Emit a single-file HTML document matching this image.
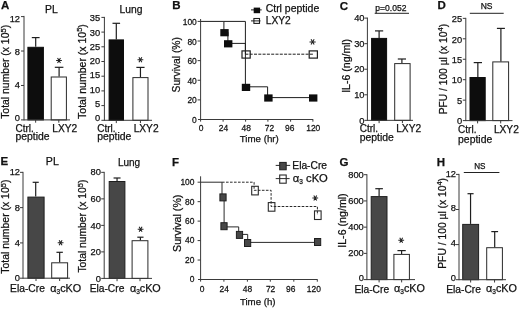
<!DOCTYPE html>
<html><head><meta charset="utf-8"><title>Figure</title><style>
html,body{margin:0;padding:0;background:#fff;}
body{width:520px;height:309px;overflow:hidden;}
svg{display:block;will-change:transform;}
text{stroke:#111;stroke-width:0.25px;}
</style></head><body>
<svg width="520" height="309" viewBox="0 0 520 309" font-family='"Liberation Sans", sans-serif' fill="#111">
<rect width="520" height="309" fill="#fff"/>
<line x1="24.00" y1="15.90" x2="24.00" y2="120.40" stroke="#3a3a3a" stroke-width="1"/>
<line x1="21.00" y1="85.47" x2="24.00" y2="85.47" stroke="#3a3a3a" stroke-width="1"/>
<line x1="21.00" y1="51.03" x2="24.00" y2="51.03" stroke="#3a3a3a" stroke-width="1"/>
<line x1="21.00" y1="16.60" x2="24.00" y2="16.60" stroke="#3a3a3a" stroke-width="1"/>
<rect x="27.90" y="47.30" width="15.50" height="72.60" fill="#0d0d0d" stroke="#0d0d0d" stroke-width="1"/>
<line x1="35.70" y1="46.80" x2="35.70" y2="37.60" stroke="#1e1e1e" stroke-width="1.2"/>
<line x1="31.80" y1="37.60" x2="39.60" y2="37.60" stroke="#1e1e1e" stroke-width="1.2"/>
<line x1="35.65" y1="119.90" x2="35.65" y2="122.70" stroke="#3a3a3a" stroke-width="1"/>
<rect x="51.20" y="77.00" width="15.20" height="42.90" fill="white" stroke="#2a2a2a" stroke-width="1"/>
<line x1="59.10" y1="76.50" x2="59.10" y2="67.30" stroke="#1e1e1e" stroke-width="1.2"/>
<line x1="54.80" y1="67.30" x2="63.40" y2="67.30" stroke="#1e1e1e" stroke-width="1.2"/>
<line x1="58.80" y1="119.90" x2="58.80" y2="122.70" stroke="#3a3a3a" stroke-width="1"/>
<line x1="21.00" y1="119.90" x2="70.00" y2="119.90" stroke="#3a3a3a" stroke-width="1"/>
<path d="M56.10 60.40L61.90 60.40M57.55 57.89L60.45 62.91M60.45 57.89L57.55 62.91" stroke="#222" stroke-width="1.05" fill="none"/>
<line x1="104.40" y1="16.90" x2="104.40" y2="120.80" stroke="#3a3a3a" stroke-width="1"/>
<line x1="101.40" y1="105.60" x2="104.40" y2="105.60" stroke="#3a3a3a" stroke-width="1"/>
<line x1="101.40" y1="90.90" x2="104.40" y2="90.90" stroke="#3a3a3a" stroke-width="1"/>
<line x1="101.40" y1="76.20" x2="104.40" y2="76.20" stroke="#3a3a3a" stroke-width="1"/>
<line x1="101.40" y1="61.50" x2="104.40" y2="61.50" stroke="#3a3a3a" stroke-width="1"/>
<line x1="101.40" y1="46.80" x2="104.40" y2="46.80" stroke="#3a3a3a" stroke-width="1"/>
<line x1="101.40" y1="32.10" x2="104.40" y2="32.10" stroke="#3a3a3a" stroke-width="1"/>
<line x1="101.40" y1="17.40" x2="104.40" y2="17.40" stroke="#3a3a3a" stroke-width="1"/>
<rect x="109.10" y="39.90" width="14.40" height="80.40" fill="#0d0d0d" stroke="#0d0d0d" stroke-width="1"/>
<line x1="116.30" y1="39.40" x2="116.30" y2="23.30" stroke="#1e1e1e" stroke-width="1.2"/>
<line x1="112.50" y1="23.30" x2="120.10" y2="23.30" stroke="#1e1e1e" stroke-width="1.2"/>
<line x1="116.30" y1="120.30" x2="116.30" y2="123.10" stroke="#3a3a3a" stroke-width="1"/>
<rect x="132.90" y="77.60" width="15.10" height="42.70" fill="white" stroke="#2a2a2a" stroke-width="1"/>
<line x1="140.45" y1="77.10" x2="140.45" y2="67.40" stroke="#1e1e1e" stroke-width="1.2"/>
<line x1="136.35" y1="67.40" x2="144.55" y2="67.40" stroke="#1e1e1e" stroke-width="1.2"/>
<line x1="140.45" y1="120.30" x2="140.45" y2="123.10" stroke="#3a3a3a" stroke-width="1"/>
<line x1="101.40" y1="120.30" x2="152.00" y2="120.30" stroke="#3a3a3a" stroke-width="1"/>
<path d="M137.50 59.70L143.30 59.70M138.95 57.19L141.85 62.21M141.85 57.19L138.95 62.21" stroke="#222" stroke-width="1.05" fill="none"/>
<line x1="367.40" y1="17.60" x2="367.40" y2="120.85" stroke="#3a3a3a" stroke-width="1"/>
<line x1="364.40" y1="94.79" x2="367.40" y2="94.79" stroke="#3a3a3a" stroke-width="1"/>
<line x1="364.40" y1="69.22" x2="367.40" y2="69.22" stroke="#3a3a3a" stroke-width="1"/>
<line x1="364.40" y1="43.66" x2="367.40" y2="43.66" stroke="#3a3a3a" stroke-width="1"/>
<line x1="364.40" y1="18.10" x2="367.40" y2="18.10" stroke="#3a3a3a" stroke-width="1"/>
<rect x="371.60" y="38.40" width="15.00" height="81.95" fill="#0d0d0d" stroke="#0d0d0d" stroke-width="1"/>
<line x1="379.10" y1="37.90" x2="379.10" y2="30.90" stroke="#1e1e1e" stroke-width="1.2"/>
<line x1="375.00" y1="30.90" x2="383.20" y2="30.90" stroke="#1e1e1e" stroke-width="1.2"/>
<line x1="379.10" y1="120.35" x2="379.10" y2="123.15" stroke="#3a3a3a" stroke-width="1"/>
<rect x="394.70" y="63.60" width="15.40" height="56.75" fill="white" stroke="#2a2a2a" stroke-width="1"/>
<line x1="401.90" y1="63.10" x2="401.90" y2="59.00" stroke="#1e1e1e" stroke-width="1.2"/>
<line x1="397.80" y1="59.00" x2="406.00" y2="59.00" stroke="#1e1e1e" stroke-width="1.2"/>
<line x1="402.40" y1="120.35" x2="402.40" y2="123.15" stroke="#3a3a3a" stroke-width="1"/>
<line x1="364.40" y1="120.35" x2="413.00" y2="120.35" stroke="#3a3a3a" stroke-width="1"/>
<line x1="374.70" y1="13.30" x2="409.00" y2="13.30" stroke="#222" stroke-width="1"/>
<line x1="465.80" y1="17.85" x2="465.80" y2="121.10" stroke="#3a3a3a" stroke-width="1"/>
<line x1="462.80" y1="100.15" x2="465.80" y2="100.15" stroke="#3a3a3a" stroke-width="1"/>
<line x1="462.80" y1="79.70" x2="465.80" y2="79.70" stroke="#3a3a3a" stroke-width="1"/>
<line x1="462.80" y1="59.25" x2="465.80" y2="59.25" stroke="#3a3a3a" stroke-width="1"/>
<line x1="462.80" y1="38.80" x2="465.80" y2="38.80" stroke="#3a3a3a" stroke-width="1"/>
<line x1="462.80" y1="18.35" x2="465.80" y2="18.35" stroke="#3a3a3a" stroke-width="1"/>
<rect x="470.00" y="77.50" width="15.20" height="43.10" fill="#0d0d0d" stroke="#0d0d0d" stroke-width="1"/>
<line x1="477.85" y1="77.00" x2="477.85" y2="62.60" stroke="#1e1e1e" stroke-width="1.2"/>
<line x1="473.70" y1="62.60" x2="482.00" y2="62.60" stroke="#1e1e1e" stroke-width="1.2"/>
<line x1="477.60" y1="120.60" x2="477.60" y2="123.40" stroke="#3a3a3a" stroke-width="1"/>
<rect x="492.80" y="61.90" width="15.80" height="58.70" fill="white" stroke="#2a2a2a" stroke-width="1"/>
<line x1="500.90" y1="61.40" x2="500.90" y2="28.40" stroke="#1e1e1e" stroke-width="1.2"/>
<line x1="496.90" y1="28.40" x2="504.90" y2="28.40" stroke="#1e1e1e" stroke-width="1.2"/>
<line x1="500.70" y1="120.60" x2="500.70" y2="123.40" stroke="#3a3a3a" stroke-width="1"/>
<line x1="462.80" y1="120.60" x2="512.50" y2="120.60" stroke="#3a3a3a" stroke-width="1"/>
<line x1="469.80" y1="13.30" x2="503.70" y2="13.30" stroke="#222" stroke-width="1"/>
<line x1="23.00" y1="171.85" x2="23.00" y2="278.70" stroke="#3a3a3a" stroke-width="1"/>
<line x1="20.00" y1="242.92" x2="23.00" y2="242.92" stroke="#3a3a3a" stroke-width="1"/>
<line x1="20.00" y1="207.63" x2="23.00" y2="207.63" stroke="#3a3a3a" stroke-width="1"/>
<line x1="20.00" y1="172.35" x2="23.00" y2="172.35" stroke="#3a3a3a" stroke-width="1"/>
<rect x="27.90" y="197.10" width="16.20" height="81.10" fill="#474747" stroke="#1e1e1e" stroke-width="1"/>
<line x1="35.70" y1="196.60" x2="35.70" y2="182.30" stroke="#1e1e1e" stroke-width="1.2"/>
<line x1="32.65" y1="182.30" x2="38.75" y2="182.30" stroke="#1e1e1e" stroke-width="1.2"/>
<line x1="36.00" y1="278.20" x2="36.00" y2="281.00" stroke="#3a3a3a" stroke-width="1"/>
<rect x="51.70" y="262.80" width="15.90" height="15.40" fill="white" stroke="#2a2a2a" stroke-width="1"/>
<line x1="59.65" y1="262.30" x2="59.65" y2="252.30" stroke="#1e1e1e" stroke-width="1.2"/>
<line x1="56.45" y1="252.30" x2="62.85" y2="252.30" stroke="#1e1e1e" stroke-width="1.2"/>
<line x1="59.65" y1="278.20" x2="59.65" y2="281.00" stroke="#3a3a3a" stroke-width="1"/>
<line x1="20.00" y1="278.20" x2="70.00" y2="278.20" stroke="#3a3a3a" stroke-width="1"/>
<path d="M57.70 242.70L63.50 242.70M59.15 240.19L62.05 245.21M62.05 240.19L59.15 245.21" stroke="#222" stroke-width="1.05" fill="none"/>
<line x1="104.20" y1="171.85" x2="104.20" y2="278.90" stroke="#3a3a3a" stroke-width="1"/>
<line x1="101.20" y1="251.89" x2="104.20" y2="251.89" stroke="#3a3a3a" stroke-width="1"/>
<line x1="101.20" y1="225.38" x2="104.20" y2="225.38" stroke="#3a3a3a" stroke-width="1"/>
<line x1="101.20" y1="198.86" x2="104.20" y2="198.86" stroke="#3a3a3a" stroke-width="1"/>
<line x1="101.20" y1="172.35" x2="104.20" y2="172.35" stroke="#3a3a3a" stroke-width="1"/>
<rect x="109.20" y="181.50" width="15.70" height="96.90" fill="#474747" stroke="#1e1e1e" stroke-width="1"/>
<line x1="117.05" y1="181.00" x2="117.05" y2="178.00" stroke="#1e1e1e" stroke-width="1.2"/>
<line x1="113.55" y1="178.00" x2="120.55" y2="178.00" stroke="#1e1e1e" stroke-width="1.2"/>
<line x1="117.05" y1="278.40" x2="117.05" y2="281.20" stroke="#3a3a3a" stroke-width="1"/>
<rect x="132.10" y="240.70" width="15.80" height="37.70" fill="white" stroke="#2a2a2a" stroke-width="1"/>
<line x1="140.40" y1="240.20" x2="140.40" y2="237.20" stroke="#1e1e1e" stroke-width="1.2"/>
<line x1="137.30" y1="237.20" x2="143.50" y2="237.20" stroke="#1e1e1e" stroke-width="1.2"/>
<line x1="140.00" y1="278.40" x2="140.00" y2="281.20" stroke="#3a3a3a" stroke-width="1"/>
<line x1="101.20" y1="278.40" x2="152.00" y2="278.40" stroke="#3a3a3a" stroke-width="1"/>
<path d="M137.70 229.30L143.50 229.30M139.15 226.79L142.05 231.81M142.05 226.79L139.15 231.81" stroke="#222" stroke-width="1.05" fill="none"/>
<line x1="366.90" y1="174.20" x2="366.90" y2="280.10" stroke="#3a3a3a" stroke-width="1"/>
<line x1="363.90" y1="253.38" x2="366.90" y2="253.38" stroke="#3a3a3a" stroke-width="1"/>
<line x1="363.90" y1="227.15" x2="366.90" y2="227.15" stroke="#3a3a3a" stroke-width="1"/>
<line x1="363.90" y1="200.93" x2="366.90" y2="200.93" stroke="#3a3a3a" stroke-width="1"/>
<line x1="363.90" y1="174.70" x2="366.90" y2="174.70" stroke="#3a3a3a" stroke-width="1"/>
<rect x="371.20" y="196.60" width="15.80" height="83.00" fill="#474747" stroke="#1e1e1e" stroke-width="1"/>
<line x1="379.10" y1="196.10" x2="379.10" y2="188.70" stroke="#1e1e1e" stroke-width="1.2"/>
<line x1="375.30" y1="188.70" x2="382.90" y2="188.70" stroke="#1e1e1e" stroke-width="1.2"/>
<line x1="379.10" y1="279.60" x2="379.10" y2="282.40" stroke="#3a3a3a" stroke-width="1"/>
<rect x="393.90" y="254.40" width="15.50" height="25.20" fill="white" stroke="#2a2a2a" stroke-width="1"/>
<line x1="401.60" y1="253.90" x2="401.60" y2="250.60" stroke="#1e1e1e" stroke-width="1.2"/>
<line x1="397.45" y1="250.60" x2="405.75" y2="250.60" stroke="#1e1e1e" stroke-width="1.2"/>
<line x1="401.65" y1="279.60" x2="401.65" y2="282.40" stroke="#3a3a3a" stroke-width="1"/>
<line x1="363.90" y1="279.60" x2="415.00" y2="279.60" stroke="#3a3a3a" stroke-width="1"/>
<path d="M398.30 240.25L404.10 240.25M399.75 237.74L402.65 242.76M402.65 237.74L399.75 242.76" stroke="#222" stroke-width="1.05" fill="none"/>
<line x1="459.00" y1="173.90" x2="459.00" y2="280.20" stroke="#3a3a3a" stroke-width="1"/>
<line x1="456.00" y1="244.60" x2="459.00" y2="244.60" stroke="#3a3a3a" stroke-width="1"/>
<line x1="456.00" y1="209.50" x2="459.00" y2="209.50" stroke="#3a3a3a" stroke-width="1"/>
<line x1="456.00" y1="174.40" x2="459.00" y2="174.40" stroke="#3a3a3a" stroke-width="1"/>
<rect x="462.70" y="224.40" width="15.90" height="55.30" fill="#474747" stroke="#1e1e1e" stroke-width="1"/>
<line x1="470.55" y1="223.90" x2="470.55" y2="193.70" stroke="#1e1e1e" stroke-width="1.2"/>
<line x1="467.50" y1="193.70" x2="473.60" y2="193.70" stroke="#1e1e1e" stroke-width="1.2"/>
<line x1="470.65" y1="279.70" x2="470.65" y2="282.50" stroke="#3a3a3a" stroke-width="1"/>
<rect x="486.70" y="247.70" width="15.70" height="32.00" fill="white" stroke="#2a2a2a" stroke-width="1"/>
<line x1="494.70" y1="247.20" x2="494.70" y2="231.60" stroke="#1e1e1e" stroke-width="1.2"/>
<line x1="491.30" y1="231.60" x2="498.10" y2="231.60" stroke="#1e1e1e" stroke-width="1.2"/>
<line x1="494.55" y1="279.70" x2="494.55" y2="282.50" stroke="#3a3a3a" stroke-width="1"/>
<line x1="456.00" y1="279.70" x2="506.00" y2="279.70" stroke="#3a3a3a" stroke-width="1"/>
<line x1="463.80" y1="172.50" x2="499.40" y2="172.50" stroke="#222" stroke-width="1"/>
<line x1="200.60" y1="19.00" x2="200.60" y2="121.60" stroke="#3a3a3a" stroke-width="1"/>
<line x1="197.60" y1="99.88" x2="200.60" y2="99.88" stroke="#3a3a3a" stroke-width="1"/>
<line x1="197.60" y1="80.26" x2="200.60" y2="80.26" stroke="#3a3a3a" stroke-width="1"/>
<line x1="197.60" y1="60.64" x2="200.60" y2="60.64" stroke="#3a3a3a" stroke-width="1"/>
<line x1="197.60" y1="41.02" x2="200.60" y2="41.02" stroke="#3a3a3a" stroke-width="1"/>
<line x1="197.60" y1="21.40" x2="200.60" y2="21.40" stroke="#3a3a3a" stroke-width="1"/>
<line x1="198.00" y1="119.50" x2="313.20" y2="119.50" stroke="#3a3a3a" stroke-width="1"/>
<line x1="223.10" y1="119.50" x2="223.10" y2="121.70" stroke="#3a3a3a" stroke-width="1"/>
<line x1="245.60" y1="119.50" x2="245.60" y2="121.70" stroke="#3a3a3a" stroke-width="1"/>
<line x1="267.90" y1="119.50" x2="267.90" y2="121.70" stroke="#3a3a3a" stroke-width="1"/>
<line x1="290.60" y1="119.50" x2="290.60" y2="121.70" stroke="#3a3a3a" stroke-width="1"/>
<line x1="312.90" y1="119.50" x2="312.90" y2="121.70" stroke="#3a3a3a" stroke-width="1"/>
<path d="M200.6 21.4 H223.9 V32.2 H227.9 V43.4 H245.4 V86.8 H267.6 V97.6 H313.2" fill="none" stroke="#1e1e1e" stroke-width="1"/>
<path d="M223.9 21.4 H245.4 V54.2" fill="none" stroke="#1e1e1e" stroke-width="1"/>
<path d="M245.4 54.2 H313.2" fill="none" stroke="#1e1e1e" stroke-width="1" stroke-dasharray="3 1.3"/>
<rect x="220.30" y="29.10" width="8.40" height="7.20" fill="#0d0d0d"/>
<rect x="224.00" y="40.20" width="8.40" height="7.20" fill="#0d0d0d"/>
<rect x="241.80" y="83.80" width="8.40" height="7.20" fill="#0d0d0d"/>
<rect x="264.20" y="94.40" width="8.40" height="7.20" fill="#0d0d0d"/>
<rect x="309.00" y="94.40" width="8.40" height="7.20" fill="#0d0d0d"/>
<rect x="242.00" y="50.90" width="8.20" height="7.20" fill="none" stroke="#1e1e1e" stroke-width="1.2"/>
<rect x="309.20" y="50.90" width="8.20" height="7.20" fill="none" stroke="#1e1e1e" stroke-width="1.2"/>
<path d="M309.50 41.90L315.70 41.90M311.05 39.22L314.15 44.58M314.15 39.22L311.05 44.58" stroke="#222" stroke-width="1.05" fill="none"/>
<line x1="251.00" y1="9.90" x2="261.70" y2="9.90" stroke="#1e1e1e" stroke-width="1"/>
<rect x="253.70" y="7.60" width="6.40" height="5.60" fill="#0d0d0d"/>
<line x1="251.00" y1="20.90" x2="260.50" y2="20.90" stroke="#1e1e1e" stroke-width="1"/>
<rect x="253.90" y="18.50" width="5.60" height="4.90" fill="none" stroke="#1e1e1e" stroke-width="1.1"/>
<line x1="200.60" y1="176.30" x2="200.60" y2="281.60" stroke="#3a3a3a" stroke-width="1"/>
<line x1="197.60" y1="260.04" x2="200.60" y2="260.04" stroke="#3a3a3a" stroke-width="1"/>
<line x1="197.60" y1="240.58" x2="200.60" y2="240.58" stroke="#3a3a3a" stroke-width="1"/>
<line x1="197.60" y1="221.12" x2="200.60" y2="221.12" stroke="#3a3a3a" stroke-width="1"/>
<line x1="197.60" y1="201.66" x2="200.60" y2="201.66" stroke="#3a3a3a" stroke-width="1"/>
<line x1="197.60" y1="182.20" x2="200.60" y2="182.20" stroke="#3a3a3a" stroke-width="1"/>
<line x1="198.00" y1="279.50" x2="317.60" y2="279.50" stroke="#3a3a3a" stroke-width="1"/>
<line x1="223.90" y1="279.50" x2="223.90" y2="281.70" stroke="#3a3a3a" stroke-width="1"/>
<line x1="247.40" y1="279.50" x2="247.40" y2="281.70" stroke="#3a3a3a" stroke-width="1"/>
<line x1="270.30" y1="279.50" x2="270.30" y2="281.70" stroke="#3a3a3a" stroke-width="1"/>
<line x1="293.80" y1="279.50" x2="293.80" y2="281.70" stroke="#3a3a3a" stroke-width="1"/>
<line x1="317.30" y1="279.50" x2="317.30" y2="281.70" stroke="#3a3a3a" stroke-width="1"/>
<path d="M200.6 182.2 H222.0 V197.4 H224.1 V226.9 H238.7 V234.4 H247.7 V242.4 H317.6" fill="none" stroke="#2a2a2a" stroke-width="1"/>
<path d="M222.0 182.2 H254.1 V190.3 H271.1 V206.5 H317.4 V215.0" fill="none" stroke="#2a2a2a" stroke-width="1" stroke-dasharray="2.6 1.4"/>
<rect x="219.90" y="193.90" width="6.20" height="7.00" fill="#474747" stroke="#1e1e1e" stroke-width="1"/>
<rect x="220.90" y="222.70" width="6.20" height="7.00" fill="#474747" stroke="#1e1e1e" stroke-width="1"/>
<rect x="236.40" y="231.40" width="6.20" height="7.00" fill="#474747" stroke="#1e1e1e" stroke-width="1"/>
<rect x="244.50" y="239.50" width="6.20" height="7.00" fill="#474747" stroke="#1e1e1e" stroke-width="1"/>
<rect x="314.50" y="238.50" width="6.20" height="7.00" fill="#474747" stroke="#1e1e1e" stroke-width="1"/>
<rect x="251.70" y="186.30" width="6.60" height="8.60" fill="none" stroke="#2a2a2a" stroke-width="1.1"/>
<rect x="268.30" y="202.60" width="6.60" height="8.60" fill="none" stroke="#2a2a2a" stroke-width="1.1"/>
<rect x="314.50" y="210.90" width="6.60" height="8.60" fill="none" stroke="#2a2a2a" stroke-width="1.1"/>
<path d="M312.35 197.90L318.15 197.90M313.80 195.39L316.70 200.41M316.70 195.39L313.80 200.41" stroke="#222" stroke-width="1.05" fill="none"/>
<line x1="275.70" y1="165.40" x2="290.20" y2="165.40" stroke="#2a2a2a" stroke-width="1"/>
<rect x="279.70" y="162.40" width="6.50" height="7.40" fill="#474747" stroke="#1e1e1e" stroke-width="1"/>
<line x1="275.70" y1="178.60" x2="289.60" y2="178.60" stroke="#2a2a2a" stroke-width="1"/>
<rect x="279.70" y="175.00" width="6.50" height="8.20" fill="none" stroke="#2a2a2a" stroke-width="1.1"/>
<text x="1.00" y="8.50" font-size="11.5" font-weight="bold">A</text>
<text x="172.30" y="9.40" font-size="11.5" font-weight="bold">B</text>
<text x="339.70" y="9.90" font-size="11.5" font-weight="bold">C</text>
<text x="437.40" y="9.40" font-size="11.5" font-weight="bold">D</text>
<text x="0.55" y="165.15" font-size="11.5" font-weight="bold">E</text>
<text x="172.00" y="166.00" font-size="11.5" font-weight="bold">F</text>
<text x="339.45" y="166.15" font-size="11.5" font-weight="bold">G</text>
<text x="436.70" y="166.00" font-size="11.5" font-weight="bold">H</text>
<text x="44.95" y="12.55" font-size="10.42">PL</text>
<text x="15.50" y="131.82" font-size="10.0">Ctrl.</text>
<text x="15.50" y="139.88" font-size="10.4">peptide</text>
<text x="52.30" y="131.82" font-size="10.2">LXY2</text>
<text x="9.50" y="118.85" font-size="10.43" transform="rotate(-90 9.50 118.85)">Total number (x 10<tspan font-size="7.5" dy="-3.6">5</tspan><tspan dy="3.6">)</tspan></text>
<text x="119.45" y="13.40" font-size="10.32">Lung</text>
<text x="97.20" y="132.10" font-size="10.0">Ctrl.</text>
<text x="97.20" y="140.40" font-size="10.4">peptide</text>
<text x="133.65" y="132.35" font-size="10.2">LXY2</text>
<text x="85.85" y="118.90" font-size="10.53" transform="rotate(-90 85.85 118.90)">Total number (x 10<tspan font-size="7.5" dy="-3.6">5</tspan><tspan dy="3.6">)</tspan></text>
<text x="375.35" y="10.65" font-size="8.53">p=0.052</text>
<text x="359.70" y="132.10" font-size="10.0">Ctrl.</text>
<text x="359.70" y="140.70" font-size="10.4">peptide</text>
<text x="396.20" y="132.10" font-size="10.2">LXY2</text>
<text x="349.65" y="92.80" font-size="10.55" transform="rotate(-90 349.65 92.80)">IL-6 (ng/ml)</text>
<text x="480.65" y="9.05" font-size="8.5">NS</text>
<text x="458.10" y="133.00" font-size="10.0">Ctrl.</text>
<text x="458.10" y="143.25" font-size="10.4">peptide</text>
<text x="493.88" y="133.18" font-size="10.2">LXY2</text>
<text x="446.75" y="114.35" font-size="10.26" transform="rotate(-90 446.75 114.35)">PFU / 100 µl (x 10<tspan font-size="7.5" dy="-3.6">4</tspan><tspan dy="3.6">)</tspan></text>
<text x="45.85" y="165.15" font-size="10.58">PL</text>
<text x="10.10" y="291.90" font-size="10.25">Ela-Cre</text>
<text x="50.30" y="291.80" font-size="10.8"><tspan>α</tspan><tspan font-size="6.5" dy="1.8">3</tspan><tspan dy="-1.8">cKO</tspan></text>
<text x="9.15" y="273.70" font-size="10.44" transform="rotate(-90 9.15 273.70)">Total number (x 10<tspan font-size="7.5" dy="-3.6">5</tspan><tspan dy="3.6">)</tspan></text>
<text x="117.90" y="166.30" font-size="10.0">Lung</text>
<text x="89.65" y="291.90" font-size="10.25">Ela-Cre</text>
<text x="129.90" y="291.80" font-size="10.8"><tspan>α</tspan><tspan font-size="6.5" dy="1.8">3</tspan><tspan dy="-1.8">cKO</tspan></text>
<text x="86.45" y="272.55" font-size="10.3" transform="rotate(-90 86.45 272.55)">Total number (x 10<tspan font-size="7.5" dy="-3.6">5</tspan><tspan dy="3.6">)</tspan></text>
<text x="354.40" y="292.65" font-size="10.25">Ela-Cre</text>
<text x="394.10" y="292.15" font-size="10.8"><tspan>α</tspan><tspan font-size="6.5" dy="1.8">3</tspan><tspan dy="-1.8">cKO</tspan></text>
<text x="345.90" y="247.80" font-size="10.67" transform="rotate(-90 345.90 247.80)">IL-6 (ng/ml)</text>
<text x="474.20" y="169.45" font-size="8.14">NS</text>
<text x="446.20" y="292.65" font-size="10.25">Ela-Cre</text>
<text x="486.10" y="292.15" font-size="10.8"><tspan>α</tspan><tspan font-size="6.5" dy="1.8">3</tspan><tspan dy="-1.8">cKO</tspan></text>
<text x="446.00" y="268.75" font-size="10.31" transform="rotate(-90 446.00 268.75)">PFU / 100 µl (x 10<tspan font-size="7.5" dy="-3.6">4</tspan><tspan dy="3.6">)</tspan></text>
<text x="239.75" y="141.50" font-size="9.72">Time (hr)</text>
<text x="179.90" y="92.45" font-size="10.28" transform="rotate(-90 179.90 92.45)">Survival (%)</text>
<text x="265.65" y="12.25" font-size="10.49">Ctrl peptide</text>
<text x="265.75" y="23.80" font-size="10.2">LXY2</text>
<text x="239.90" y="305.07" font-size="9.68">Time (h)</text>
<text x="180.65" y="251.95" font-size="10.65" transform="rotate(-90 180.65 251.95)">Survival (%)</text>
<text x="292.30" y="168.75" font-size="10.25">Ela-Cre</text>
<text x="292.85" y="182.35" font-size="11.19"><tspan>α</tspan><tspan font-size="6.5" dy="1.8">3</tspan><tspan dy="-1.8"> cKO</tspan></text>
<text x="20.00" y="121.30" font-size="9.3" text-anchor="end">0</text>
<text x="20.00" y="88.03" font-size="9.3" text-anchor="end">4</text>
<text x="20.00" y="54.77" font-size="9.3" text-anchor="end">8</text>
<text x="20.00" y="21.50" font-size="9.3" text-anchor="end">12</text>
<text x="100.20" y="121.20" font-size="9.3" text-anchor="end">0</text>
<text x="100.20" y="106.94" font-size="9.3" text-anchor="end">5</text>
<text x="100.20" y="92.69" font-size="9.3" text-anchor="end">10</text>
<text x="100.20" y="78.43" font-size="9.3" text-anchor="end">15</text>
<text x="100.20" y="64.17" font-size="9.3" text-anchor="end">20</text>
<text x="100.20" y="49.92" font-size="9.3" text-anchor="end">25</text>
<text x="100.20" y="35.66" font-size="9.3" text-anchor="end">30</text>
<text x="100.20" y="21.40" font-size="9.3" text-anchor="end">35</text>
<text x="364.50" y="123.80" font-size="9.3" text-anchor="end">0</text>
<text x="364.50" y="98.14" font-size="9.3" text-anchor="end">10</text>
<text x="364.50" y="72.48" font-size="9.3" text-anchor="end">20</text>
<text x="364.50" y="46.81" font-size="9.3" text-anchor="end">30</text>
<text x="364.50" y="21.15" font-size="9.3" text-anchor="end">40</text>
<text x="462.10" y="123.80" font-size="9.3" text-anchor="end">0</text>
<text x="462.10" y="103.50" font-size="9.3" text-anchor="end">5</text>
<text x="462.10" y="83.20" font-size="9.3" text-anchor="end">10</text>
<text x="462.10" y="62.90" font-size="9.3" text-anchor="end">15</text>
<text x="462.10" y="42.60" font-size="9.3" text-anchor="end">20</text>
<text x="462.10" y="22.30" font-size="9.3" text-anchor="end">25</text>
<text x="20.00" y="281.30" font-size="9.3" text-anchor="end">0</text>
<text x="20.00" y="245.90" font-size="9.3" text-anchor="end">4</text>
<text x="20.00" y="210.50" font-size="9.3" text-anchor="end">8</text>
<text x="20.00" y="175.10" font-size="9.3" text-anchor="end">12</text>
<text x="100.90" y="281.80" font-size="9.3" text-anchor="end">0</text>
<text x="100.90" y="255.18" font-size="9.3" text-anchor="end">20</text>
<text x="100.90" y="228.55" font-size="9.3" text-anchor="end">40</text>
<text x="100.90" y="201.93" font-size="9.3" text-anchor="end">60</text>
<text x="100.90" y="175.30" font-size="9.3" text-anchor="end">80</text>
<text x="363.80" y="281.40" font-size="9.3" text-anchor="end">0</text>
<text x="363.80" y="255.58" font-size="9.3" text-anchor="end">200</text>
<text x="363.80" y="229.75" font-size="9.3" text-anchor="end">400</text>
<text x="363.80" y="203.93" font-size="9.3" text-anchor="end">600</text>
<text x="363.80" y="178.10" font-size="9.3" text-anchor="end">800</text>
<text x="456.00" y="281.10" font-size="9.3" text-anchor="end">0</text>
<text x="456.00" y="246.23" font-size="9.3" text-anchor="end">4</text>
<text x="456.00" y="211.37" font-size="9.3" text-anchor="end">8</text>
<text x="456.00" y="176.50" font-size="9.3" text-anchor="end">12</text>
<text font-size="9.2" text-anchor="end" transform="translate(196.80 122.87) scale(0.92 1)">0</text>
<text font-size="9.2" text-anchor="end" transform="translate(196.80 103.30) scale(0.92 1)">20</text>
<text font-size="9.2" text-anchor="end" transform="translate(196.80 83.73) scale(0.92 1)">40</text>
<text font-size="9.2" text-anchor="end" transform="translate(196.80 64.16) scale(0.92 1)">60</text>
<text font-size="9.2" text-anchor="end" transform="translate(196.80 44.59) scale(0.92 1)">80</text>
<text font-size="9.2" text-anchor="end" transform="translate(196.80 25.02) scale(0.92 1)">100</text>
<text font-size="9.2" text-anchor="middle" transform="translate(201.00 131.27) scale(0.92 1)">0</text>
<text font-size="9.2" text-anchor="middle" transform="translate(223.40 131.27) scale(0.92 1)">24</text>
<text font-size="9.2" text-anchor="middle" transform="translate(246.20 131.27) scale(0.92 1)">48</text>
<text font-size="9.2" text-anchor="middle" transform="translate(269.40 131.27) scale(0.92 1)">72</text>
<text font-size="9.2" text-anchor="middle" transform="translate(289.80 131.27) scale(0.92 1)">96</text>
<text font-size="9.2" text-anchor="middle" transform="translate(313.25 131.27) scale(0.92 1)">120</text>
<text font-size="9.2" text-anchor="end" transform="translate(194.50 282.27) scale(0.92 1)">0</text>
<text font-size="9.2" text-anchor="end" transform="translate(194.50 262.87) scale(0.92 1)">20</text>
<text font-size="9.2" text-anchor="end" transform="translate(194.50 243.47) scale(0.92 1)">40</text>
<text font-size="9.2" text-anchor="end" transform="translate(194.50 224.07) scale(0.92 1)">60</text>
<text font-size="9.2" text-anchor="end" transform="translate(194.50 204.67) scale(0.92 1)">80</text>
<text font-size="9.2" text-anchor="end" transform="translate(194.50 185.27) scale(0.92 1)">100</text>
<text font-size="9.2" text-anchor="middle" transform="translate(202.00 291.87) scale(0.92 1)">0</text>
<text font-size="9.2" text-anchor="middle" transform="translate(224.20 291.87) scale(0.92 1)">24</text>
<text font-size="9.2" text-anchor="middle" transform="translate(247.40 291.87) scale(0.92 1)">48</text>
<text font-size="9.2" text-anchor="middle" transform="translate(270.60 291.87) scale(0.92 1)">72</text>
<text font-size="9.2" text-anchor="middle" transform="translate(290.80 291.87) scale(0.92 1)">96</text>
<text font-size="9.2" text-anchor="middle" transform="translate(313.80 291.87) scale(0.92 1)">120</text>
</svg>
</body></html>
